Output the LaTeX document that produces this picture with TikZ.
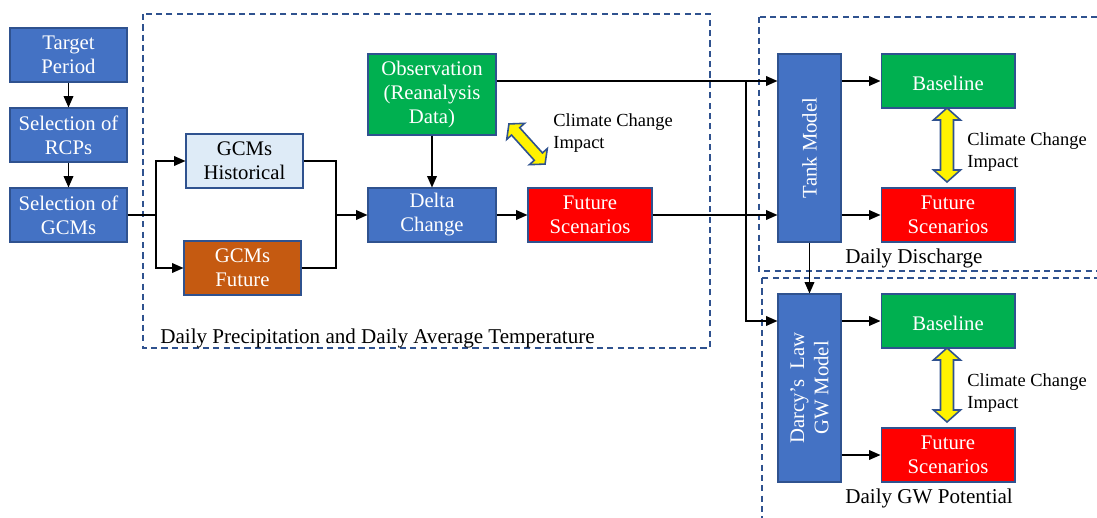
\documentclass[tikz,border=0pt]{standalone}
\usepackage{fontspec}
\setmainfont{Liberation Serif}
\usetikzlibrary{arrows.meta}
\definecolor{boxblue}{HTML}{4472C4}
\definecolor{edgeblue}{HTML}{2F528F}
\definecolor{obsgreen}{HTML}{00B050}
\definecolor{futred}{HTML}{FF0000}
\definecolor{histblue}{HTML}{DEEBF7}
\definecolor{gcmorange}{HTML}{C55A11}
\tikzset{
    boxtext/.style={inner sep=0pt, align=center, text=white, font=\fontsize{11.8}{13.7}\selectfont},
    box/.style={boxtext, draw=edgeblue, line width=0.6pt, execute at begin node={\rule{0pt}{11pt}}},
    stepbox/.style={box, fill=boxblue, minimum width=2.34cm, minimum height=1.08cm},
    resbox/.style={box, minimum width=2.68cm, minimum height=1.08cm},
    modelbox/.style={box, fill=boxblue, minimum width=1.26cm, minimum height=3.76cm},
    flow/.style={-{Triangle[length=6.5pt,width=5.5pt]}, line width=0.8pt},
    line/.style={line width=0.8pt},
    region/.style={draw=edgeblue, line width=1pt, dash pattern=on 3.5pt off 2.4pt},
    impact/.style={draw=edgeblue, fill=yellow, line width=0.9pt, line join=miter},
    note/.style={inner sep=0pt, align=left, font=\fontsize{10.5}{12.4}\selectfont},
    caption/.style={inner sep=0pt, anchor=base west, font=\fontsize{12}{14}\selectfont}
}

\begin{document}
\begin{tikzpicture}[x=0.02cm, y=-0.02cm]
    \clip (0,0) rectangle (1097,517);
    % dashed regions
    \draw[region] (143,14) rectangle (710,348);
    \draw[region] (759,17) rectangle (1120,271);
    \draw[region] (762,278) rectangle (1120,540);
    \node[caption] (cap1) at (160,343) {Daily Precipitation and Daily Average Temperature};
    \node[caption] (cap2) at (845,263) {Daily Discharge};
    \node[caption] (cap3) at (845,503) {Daily GW Potential};

    % left column
    \node[stepbox] (target) at (68.5,55) {Target\\Period};
    \node[stepbox] (rcp) at (68.5,135) {Selection of\\RCPs};
    \node[stepbox] (gcm) at (68.5,215) {Selection of\\GCMs};
    \draw[flow] (target) -- (rcp);
    \draw[flow] (rcp) -- (gcm);

    % GCMs and delta change
    \node[stepbox, fill=histblue, text=black] (hist) at (244.5,161) {GCMs\\Historical};
    \node[stepbox, fill=gcmorange] (fut) at (242.5,268) {GCMs\\Future};
    \node[box, fill=obsgreen, minimum width=2.56cm, minimum height=1.62cm] (obs) at (432,94.5) {Observation\\(Reanalysis\\Data)};
    \node[box, fill=boxblue, minimum width=2.56cm, minimum height=1.08cm] (delta) at (432,215) {Delta\\Change};
    \node[box, fill=futred, minimum width=2.48cm, minimum height=1.08cm] (futsc) at (590,215) {Future\\Scenarios};
    \coordinate (split) at (156,215);
    \coordinate (join) at (336,215);
    \draw[line] (gcm.east) -- (split);
    \draw[flow] (split) |- (hist.west);
    \draw[flow] (split) |- (fut.west);
    \draw[line] (hist.east) -| (join);
    \draw[line] (fut.east) -| (join);
    \draw[flow] (join) -- (delta.west);
    \draw[flow] (obs) -- (delta);
    \draw[flow] (delta) -- (futsc);
    \draw[impact, shift={(527,144)}, rotate=42] (0,-27) -- (12,-17) -- (5.5,-17) -- (5.5,17) -- (12,17)
        -- (0,27) -- (-12,17) -- (-5.5,17) -- (-5.5,-17) -- (-12,-17) -- cycle;
    \node[note, anchor=west] (imp0) at (553,133) {Climate Change\\Impact};

    % models
    \node[modelbox] (tank) at (809.5,148) {};
    \node[boxtext, rotate=90] (tanktxt) at (tank) {Tank Model};
    \node[modelbox] (darcy) at (809.5,388) {};
    \node[boxtext, rotate=90] (darcytxt) at (darcy) {Darcy's~ Law\\GW Model};
    \node[resbox, fill=obsgreen] (base1) at (948,81) {Baseline};
    \node[resbox, fill=futred] (fut1) at (948,215) {Future\\Scenarios};
    \node[resbox, fill=obsgreen] (base2) at (948,321) {Baseline};
    \node[resbox, fill=futred] (fut2) at (948,455) {Future\\Scenarios};

    \coordinate (tap) at (746,81);
    \draw[flow] (obs.east |- base1.west) -- (tank.west |- base1.west);
    \draw[flow] (futsc.east) -- (tank.west |- futsc.east);
    \draw[flow] (tap) |- (darcy.west |- base2.west);
    \draw[flow] (tank.east |- base1.west) -- (base1.west);
    \draw[flow] (tank.east |- fut1.west) -- (fut1.west);
    \draw[flow] (tank) -- (darcy);
    \draw[flow] (darcy.east |- base2.west) -- (base2.west);
    \draw[flow] (darcy.east |- fut2.west) -- (fut2.west);

    % climate change impact
    \draw[impact, shift={(947,145)}] (0,-37) -- (13.5,-25) -- (6.5,-25) -- (6.5,25) -- (13.5,25)
        -- (0,37) -- (-13.5,25) -- (-6.5,25) -- (-6.5,-25) -- (-13.5,-25) -- cycle;
    \draw[impact, shift={(947,385)}] (0,-37) -- (13.5,-25) -- (6.5,-25) -- (6.5,25) -- (13.5,25)
        -- (0,37) -- (-13.5,25) -- (-6.5,25) -- (-6.5,-25) -- (-13.5,-25) -- cycle;
    \node[note, anchor=west] (imp1) at (967,152) {Climate Change\\Impact};
    \node[note, anchor=west] (imp2) at (967,393) {Climate Change\\Impact};
\end{tikzpicture}
\end{document}
